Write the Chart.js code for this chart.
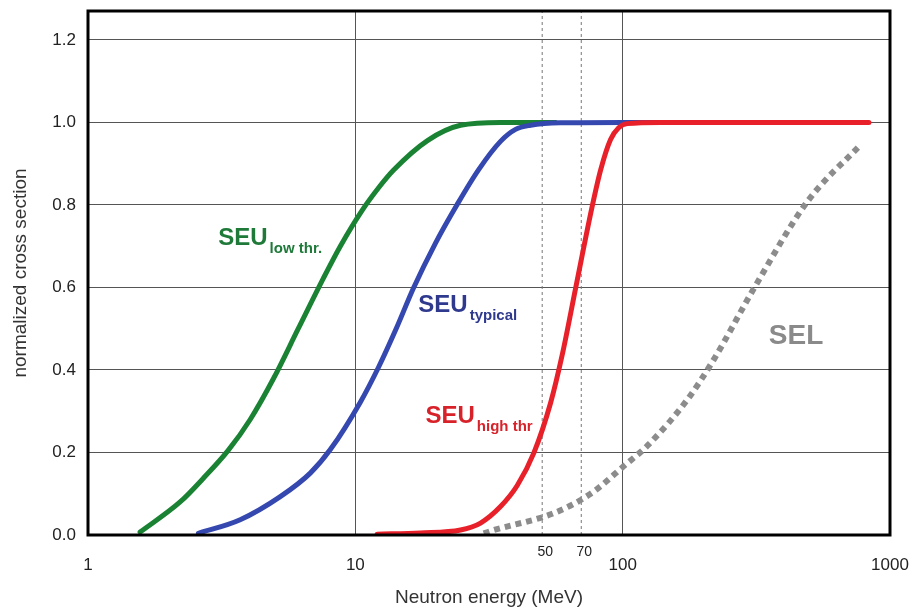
<!DOCTYPE html>
<html>
<head>
    <title>Neutron cross section</title>
    <script src="https://cdn.jsdelivr.net/npm/chart.js"></script>
    <style>
        html, body { margin: 0; padding: 0; background: #fff; }
        #wrap { width: 911px; height: 611px; }
    </style>
</head>
<body>
    <div id="wrap"><canvas id="chart" width="911" height="611"></canvas></div>

    <script>
        // tick labels
        var energyTicks = [1, 10, 100, 1000];
        var markerEnergies = [50, 70];
        var sigmaTicks = [0, 0.2, 0.4, 0.6, 0.8, 1.0, 1.2];

        // SEU low threshold
        var lowThrEnergy = [1.566, 2.211, 2.696, 3.345, 4.044, 4.931, 6.116, 7.59, 8.787, 10.53, 12.2, 13.88, 18.61, 24.74, 34.92, 56.1];
        var lowThrSigma  = [0.007, 0.080, 0.137, 0.205, 0.280, 0.378, 0.500, 0.622, 0.700, 0.784, 0.841, 0.884, 0.956, 0.993, 1.0, 1.0];

        // SEU typical
        var typicalEnergy = [2.588, 3.709, 5.239, 6.784, 8.06, 10.44, 12.2, 14.24, 16.49, 19.93, 24.04, 28.89, 34.92, 39.75, 45.23, 58.6, 100, 151.3];
        var typicalSigma  = [0.004, 0.037, 0.093, 0.150, 0.207, 0.322, 0.406, 0.501, 0.598, 0.707, 0.801, 0.885, 0.954, 0.983, 0.993, 0.999, 1.0, 1.0];

        // SEU high threshold
        var highThrEnergy = [12.06, 17.52, 24.74, 29.39, 34.92, 40.33, 46.54, 53.74, 59.62, 66.68, 77.0, 82.74, 90.18, 96.6, 104.1, 138.8, 301.6, 834];
        var highThrSigma  = [0.002, 0.005, 0.012, 0.029, 0.069, 0.120, 0.199, 0.320, 0.441, 0.598, 0.798, 0.885, 0.959, 0.987, 0.997, 1.0, 1.0, 1.0];

        // SEL
        var selEnergy = [30.2, 33, 55.3, 75.9, 101, 124, 175, 220, 310, 492, 779];
        var selSigma  = [0.004, 0.012, 0.053, 0.10, 0.167, 0.217, 0.329, 0.427, 0.598, 0.809, 0.947];

        function points(xs, ys) {
            return xs.map(function(x, i) { return { x: x, y: ys[i] }; });
        }

        var FONT = '"Liberation Sans", Arial, sans-serif';

        // labels for the curves, placed in data coordinates
        var curveLabels = [
            { main: 'SEU', sub: 'low thr.', e: 3.07, s: 0.702, color: '#1f7a3a' },
            { main: 'SEU', sub: 'typical', e: 17.2, s: 0.541, color: '#2f3a8e' },
            { main: 'SEU', sub: 'high thr', e: 18.3, s: 0.271, color: '#d8222a' },
            { main: 'SEL', sub: '', e: 352, s: 0.463, color: '#8a8a8a', big: true }
        ];

        var decorPlugin = {
            id: 'decor',
            afterDraw: function(chart) {
                var ctx = chart.ctx;
                var a = chart.chartArea;
                var xs = chart.scales.x, ys = chart.scales.y;
                ctx.save();

                // frame
                ctx.strokeStyle = '#000';
                ctx.lineWidth = 3;
                ctx.strokeRect(a.left, a.top, a.right - a.left, a.bottom - a.top);

                // 50 / 70 labels
                ctx.fillStyle = '#222';
                ctx.font = '14px ' + FONT;
                ctx.textAlign = 'center';
                ctx.textBaseline = 'middle';
                markerEnergies.forEach(function(e) {
                    ctx.fillText(String(e), xs.getPixelForValue(e) + 3, a.bottom + 17);
                });

                // curve labels
                ctx.textAlign = 'left';
                ctx.textBaseline = 'alphabetic';
                curveLabels.forEach(function(l) {
                    var px = xs.getPixelForValue(l.e);
                    var py = ys.getPixelForValue(l.s);
                    ctx.fillStyle = l.color;
                    ctx.font = 'bold ' + (l.big ? 28 : 24) + 'px ' + FONT;
                    ctx.fillText(l.main, px, py);
                    var w = ctx.measureText(l.main).width;
                    if (l.sub) {
                        ctx.font = 'bold 15px ' + FONT;
                        ctx.fillText(l.sub, px + w + 2, py + 8);
                    }
                });
                ctx.restore();
            }
        };

        var markerDatasets = markerEnergies.map(function(e) {
            return {
                data: [{ x: e, y: 0 }, { x: e, y: 1.27 }],
                borderColor: '#777',
                borderWidth: 1,
                borderDash: [3, 3],
                pointRadius: 0,
                showLine: true,
                order: 5
            };
        });

        function curve(xs, ys, color, extra) {
            var ds = {
                data: points(xs, ys),
                borderColor: color,
                borderWidth: 5,
                pointRadius: 0,
                showLine: true,
                cubicInterpolationMode: 'monotone',
                borderCapStyle: 'round',
                borderJoinStyle: 'round'
            };
            for (var k in extra) ds[k] = extra[k];
            return ds;
        }

        var ctx = document.getElementById('chart').getContext('2d');
        var chart = new Chart(ctx, {
            type: 'scatter',
            data: {
                datasets: markerDatasets.concat([
                    curve(selEnergy, selSigma, '#8c8c8c', { borderWidth: 6, borderDash: [6, 5], borderCapStyle: 'butt', order: 4 }),
                    curve(lowThrEnergy, lowThrSigma, '#1a8233', { order: 3 }),
                    curve(typicalEnergy, typicalSigma, '#3548b0', { order: 2 }),
                    curve(highThrEnergy, highThrSigma, '#e8202a', { order: 1 })
                ])
            },
            options: {
                responsive: false,
                animation: false,
                layout: { padding: { top: 11, right: 21, left: 0, bottom: 0 } },
                plugins: {
                    legend: { display: false },
                    tooltip: { enabled: false }
                },
                scales: {
                    x: {
                        type: 'logarithmic',
                        min: 1,
                        max: 1000,
                        afterBuildTicks: function(s) {
                            s.ticks = energyTicks.map(function(v) { return { value: v }; });
                        },
                        afterFit: function(s) {
                            s.height = 76;
                            s.paddingLeft = 0;
                            s.paddingRight = 0;
                        },
                        ticks: {
                            callback: function(v) { return String(v); },
                            font: { size: 17, family: FONT },
                            color: '#222',
                            padding: 20,
                            maxRotation: 0,
                            autoSkip: false
                        },
                        grid: { color: '#555', lineWidth: 1, drawTicks: false },
                        border: { display: false },
                        title: {
                            display: true,
                            text: 'Neutron energy (MeV)',
                            font: { size: 19, family: FONT },
                            color: '#333',
                            padding: { top: 0, bottom: 2 }
                        }
                    },
                    y: {
                        min: 0,
                        max: 1.27,
                        afterBuildTicks: function(s) {
                            s.ticks = sigmaTicks.map(function(v) { return { value: v }; });
                        },
                        afterFit: function(s) {
                            s.width = 88;
                            s.paddingTop = 0;
                            s.paddingBottom = 0;
                        },
                        ticks: {
                            callback: function(v) { return v.toFixed(1); },
                            font: { size: 17, family: FONT },
                            color: '#222',
                            padding: 12
                        },
                        grid: { color: '#555', lineWidth: 1, drawTicks: false },
                        border: { display: false },
                        title: {
                            display: true,
                            text: 'normalized cross section',
                            font: { size: 19, family: FONT },
                            color: '#333',
                            padding: { top: 9, bottom: 0 }
                        }
                    }
                }
            },
            plugins: [decorPlugin]
        });
    </script>
</body>
</html>
